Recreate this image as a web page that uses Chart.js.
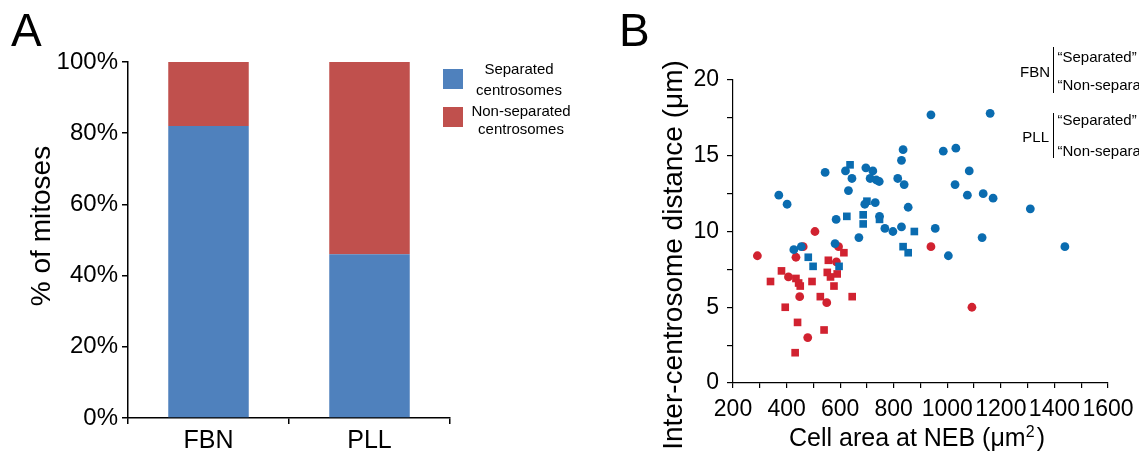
<!DOCTYPE html>
<html>
<head>
<meta charset="utf-8">
<script src="https://cdn.jsdelivr.net/npm/chart.js@4.4.1/dist/chart.umd.min.js"></script>
<style>
  html, body { margin:0; padding:0; width:1139px; height:454px; overflow:hidden; background:#fff;
    font-family:'Liberation Sans', Arial, Helvetica, sans-serif; color:#000; }
  .t { position:absolute; white-space:nowrap; line-height:1; }
  .rot { position:absolute; white-space:nowrap; line-height:1; text-align:center; transform:rotate(-90deg); }
  .sw { position:absolute; width:20px; height:20px; }
  .vbar { position:absolute; width:1.5px; background:#000; }
  canvas { position:absolute; top:0; }
</style>
</head>
<body>
<canvas id="cA" width="620" height="454" style="left:0"></canvas>
<canvas id="cB" width="519" height="454" style="left:620px"></canvas>

<!-- panel letters -->
<div class="t" style="left:11px;top:7px;font-size:46px;">A</div>
<div class="t" style="left:619px;top:7px;font-size:46px;">B</div>

<!-- panel A y title -->
<div class="rot" style="left:-59px;top:212px;width:200px;font-size:28px;">% of mitoses</div>

<!-- panel A legend -->
<div class="sw" style="left:443px;top:69px;background:#4F81BD"></div>
<div class="sw" style="left:443px;top:107px;background:#C0504D"></div>
<div class="t" style="left:439px;top:60.6px;width:160px;text-align:center;font-size:15px;">Separated</div>
<div class="t" style="left:439px;top:81.6px;width:160px;text-align:center;font-size:15px;">centrosomes</div>
<div class="t" style="left:441px;top:103px;width:160px;text-align:center;font-size:15px;">Non-separated</div>
<div class="t" style="left:441px;top:120.6px;width:160px;text-align:center;font-size:15px;">centrosomes</div>

<!-- panel B axis titles -->
<div class="rot" style="left:473px;top:241px;width:400px;font-size:28px;">Inter-centrosome distance (μm)</div>
<div class="t" style="left:717px;top:424.8px;width:400px;text-align:center;font-size:25px;">Cell area at NEB (μm<sup style="font-size:16px;vertical-align:9px;line-height:0">2</sup>&#8202;)</div>

<!-- panel B legend -->
<div class="t" style="left:990px;top:64px;width:60px;text-align:right;font-size:15px;">FBN</div>
<div class="vbar" style="left:1052.5px;top:46.7px;height:46px;"></div>
<div class="t" style="left:1057.5px;top:49px;font-size:15px;">“Separated”</div>
<div class="t" style="left:1057.5px;top:76.6px;font-size:15px;">“Non-separated”</div>
<div class="t" style="left:989px;top:129px;width:60px;text-align:right;font-size:15px;">PLL</div>
<div class="vbar" style="left:1052.5px;top:112.7px;height:45.6px;"></div>
<div class="t" style="left:1057.5px;top:112.3px;font-size:15px;">“Separated”</div>
<div class="t" style="left:1057.5px;top:142.6px;font-size:15px;">“Non-separated”</div>

<script>
// ---------- Panel A data ----------
const categories = ['FBN', 'PLL'];
const separatedPct = [82, 46];
const nonSeparatedPct = [18, 54];
const yTicksA = [0, 20, 40, 60, 80, 100];

// ---------- Panel B data (cell area µm², distance µm) ----------
const fbnSepArea = [939, 1160, 835, 829, 985, 1032, 1082, 544, 620, 696, 722, 644, 712, 735, 746, 815, 839, 1029, 631, 371, 402, 1075, 1134, 1171, 1310, 692, 731, 854, 585, 747, 767, 797, 829, 955, 1130, 670, 1004, 427, 455, 581, 1439];
const fbnSepDist = [17.7, 17.8, 15.4, 14.7, 15.3, 15.5, 14.0, 13.9, 14.0, 14.2, 14.0, 13.5, 13.5, 13.4, 13.3, 13.5, 13.1, 13.1, 12.7, 12.4, 11.8, 12.4, 12.5, 12.2, 11.5, 11.8, 11.9, 11.6, 10.8, 11.0, 10.2, 10.0, 10.3, 10.2, 9.6, 9.6, 8.4, 8.8, 9.0, 9.2, 9.0];

const fbnNonArea = [506, 939, 291, 462, 594, 435, 586, 407, 449, 550, 1092, 479];
const fbnNonDist = [10.0, 9.0, 8.4, 9.0, 9.0, 8.3, 8.0, 7.0, 5.7, 5.3, 5.0, 3.0];

const pllSepArea = [637, 700, 625, 686, 686, 747, 877, 835, 854, 481, 499, 596];
const pllSepDist = [14.4, 12.0, 11.0, 11.1, 10.5, 10.8, 10.0, 9.0, 8.6, 8.3, 7.7, 7.7];

const pllNonArea = [614, 556, 381, 340, 435, 445, 451, 495, 552, 564, 589, 577, 526, 645, 395, 441, 540, 432];
const pllNonDist = [8.6, 8.1, 7.4, 6.7, 6.9, 6.6, 6.4, 6.7, 7.3, 7.0, 7.2, 6.4, 5.7, 5.7, 5.0, 4.0, 3.5, 2.0];

const xTicksB = [200, 400, 600, 800, 1000, 1200, 1400, 1600];
const yTicksB = [0, 5, 10, 15, 20];

const FONT = "'Liberation Sans', Arial, Helvetica, sans-serif";
const BLUE = '#0a6cb0', RED = '#d12230';
const toXY = (xs, ys) => xs.map((x, i) => ({ x: x, y: ys[i] }));

// ---------- Panel A ----------
new Chart(document.getElementById('cA'), {
  type: 'bar',
  data: {
    labels: categories,
    datasets: [
      { label: 'Separated centrosomes', data: separatedPct, backgroundColor: '#4F81BD',
        barPercentage: 0.5, categoryPercentage: 1.0 },
      { label: 'Non-separated centrosomes', data: nonSeparatedPct, backgroundColor: '#C0504D',
        barPercentage: 0.5, categoryPercentage: 1.0 }
    ]
  },
  options: {
    responsive: false, animation: false, devicePixelRatio: 1,
    layout: { padding: { left: 0, right: 170, top: 62, bottom: 0 } },
    plugins: { legend: { display: false }, tooltip: { enabled: false } },
    scales: {
      x: {
        stacked: true,
        grid: { display: true, drawOnChartArea: false, offset: true, tickLength: 6, color: '#000', lineWidth: 1.5 },
        border: { display: true, color: '#000', width: 1.5 },
        ticks: { color: '#000', font: { family: FONT, size: 25 }, padding: 2 },
        afterFit: s => { s.height = 36; }
      },
      y: {
        stacked: true, min: 0, max: 100,
        afterBuildTicks: s => { s.ticks = yTicksA.map(v => ({ value: v })); },
        grid: { display: true, drawOnChartArea: false, tickLength: 6, color: '#000', lineWidth: 1.5 },
        border: { display: true, color: '#000', width: 1.5 },
        ticks: { color: '#000', font: { family: FONT, size: 24 }, padding: 4, callback: v => v + '%' },
        afterFit: s => { s.width = 128; }
      }
    }
  }
});

// ---------- Panel B ----------
function ds(label, xs, ys, color, style, r) {
  return { label: label, data: toXY(xs, ys), backgroundColor: color, borderColor: color,
           borderWidth: 0, pointStyle: style, pointRadius: r, pointHoverRadius: r };
}
new Chart(document.getElementById('cB'), {
  type: 'scatter',
  data: {
    datasets: [
      ds('FBN “Separated”', fbnSepArea, fbnSepDist, BLUE, 'circle', 4.4),
      ds('PLL “Separated”', pllSepArea, pllSepDist, BLUE, 'rect', 5.4),
      ds('FBN “Non-separated”', fbnNonArea, fbnNonDist, RED, 'circle', 4.4),
      ds('PLL “Non-separated”', pllNonArea, pllNonDist, RED, 'rect', 5.4)
    ]
  },
  options: {
    responsive: false, animation: false, devicePixelRatio: 1,
    layout: { padding: { left: 0, right: 31, top: 80, bottom: 0 } },
    plugins: { legend: { display: false }, tooltip: { enabled: false } },
    scales: {
      x: {
        type: 'linear', min: 200, max: 1600,
        afterBuildTicks: s => {
          const t = [];
          for (let i = 0; i < xTicksB.length; i++) {
            t.push({ value: xTicksB[i] });
            if (i < xTicksB.length - 1) t.push({ value: (xTicksB[i] + xTicksB[i + 1]) / 2 });
          }
          s.ticks = t;
        },
        grid: { display: true, drawOnChartArea: false, tickLength: 5, color: '#000', lineWidth: 1.2 },
        border: { display: true, color: '#000', width: 1.2 },
        ticks: { color: '#000', font: { family: FONT, size: 23 }, padding: 8, autoSkip: false,
                 maxRotation: 0, minRotation: 0,
                 callback: v => (xTicksB.includes(v) ? String(v) : '') },
        afterFit: s => { s.height = 71; s.paddingLeft = 0; s.paddingRight = 0; }
      },
      y: {
        type: 'linear', min: 0, max: 20,
        afterBuildTicks: s => {
          const t = [];
          for (let i = 0; i < yTicksB.length; i++) {
            t.push({ value: yTicksB[i] });
            if (i < yTicksB.length - 1) t.push({ value: (yTicksB[i] + yTicksB[i + 1]) / 2 });
          }
          s.ticks = t;
        },
        grid: { display: true, drawOnChartArea: false, tickLength: 6, color: '#000', lineWidth: 1.2 },
        border: { display: true, color: '#000', width: 1.2 },
        ticks: { color: '#000', font: { family: FONT, size: 23 }, padding: 8,
                 callback: v => (yTicksB.includes(v) ? String(v) : '') },
        afterFit: s => { s.width = 113; s.paddingTop = 0; s.paddingBottom = 0; }
      }
    }
  }
});
</script>
</body>
</html>
